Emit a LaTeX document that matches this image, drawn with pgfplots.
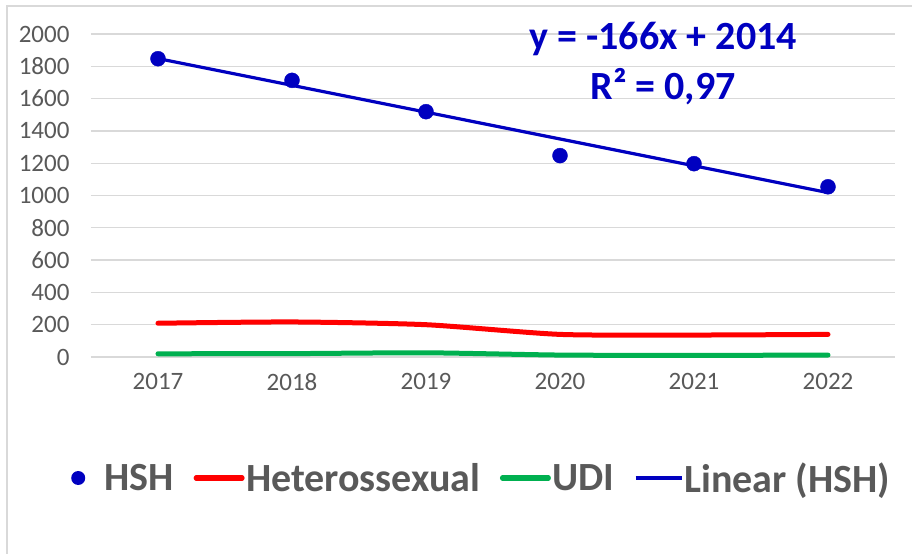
\documentclass[border=0pt]{standalone}
\usepackage{pgfplots}
\pgfplotsset{compat=1.18}
\usepackage{fontspec}
\setmainfont{Carlito}
\definecolor{hshblue}{HTML}{0000C0}
\definecolor{hetred}{HTML}{FF0000}
\definecolor{udigreen}{HTML}{00B050}
\definecolor{gridgray}{HTML}{D9D9D9}
\definecolor{txtgray}{HTML}{595959}
\begin{document}
\begin{tikzpicture}
\begin{axis}[
  scale only axis, width=804bp, height=323bp,
  xmin=2016.5, xmax=2022.5, ymin=0, ymax=2000,
  xtick={2017,2018,2019,2020,2021,2022},
  xticklabels={2017,2018,2019,2020,2021,2022},
  ytick={0,200,...,2000},
  ymajorgrids, grid style={gridgray, line width=1.3bp},
  axis line style={draw=none}, major tick length=0pt,
  tick label style={font=\fontsize{25bp}{28bp}\selectfont, text=txtgray},
  /pgf/number format/assume math mode=true,
  /pgf/number format/1000 sep={},
  yticklabel style={xshift=-18bp},
  xticklabel style={yshift=-13bp},
  clip=false,
  legend columns=4,
  legend style={at={(0.4745,-0.3746)}, anchor=center, draw=none, fill=none,
    font=\bfseries\fontsize{40bp}{48bp}\selectfont, text=txtgray,
    nodes={inner xsep=1.5bp, inner ysep=0bp},
    /tikz/every even column/.append style={column sep=18bp}},
]
\addplot[only marks, mark=*, mark size=7.5bp, hshblue,
  legend image code/.code={\path[draw=none] (0bp,0bp) -- (50bp,0bp); \path[fill=hshblue, draw=none] (25bp,0bp) circle (7bp);}]
  coordinates {(2017,1847) (2018,1713) (2019,1519) (2020,1247) (2021,1197) (2022,1054)};
\addlegendentry{HSH}
\addplot[hetred, line width=5bp, line cap=round, smooth, tension=0.4, no marks,
  legend image code/.code={\draw[hetred, line width=5bp, line cap=round] (2bp,0bp) -- (48bp,0bp);}]
  coordinates {(2017,209) (2018,217) (2019,200) (2020,140) (2021,136) (2022,140)};
\addlegendentry{Heterossexual}
\addplot[udigreen, line width=5bp, line cap=round, smooth, tension=0.4, no marks,
  legend image code/.code={\draw[udigreen, line width=5bp, line cap=round] (2bp,0bp) -- (48bp,0bp);}]
  coordinates {(2017,20) (2018,21) (2019,26) (2020,12) (2021,10) (2022,12)};
\addlegendentry{UDI}
\addplot[hshblue, line width=3.2bp, no marks,
  legend image code/.code={\draw[hshblue, line width=3.2bp] (2bp,0bp) -- (48bp,0bp);}]
  coordinates {(2017,1848) (2022,1018)};
\addlegendentry{Linear (HSH)}
\node[hshblue, font=\bfseries\fontsize{40bp}{50bp}\selectfont, align=center] at (axis cs:2020.77,1815) {y = -166x + 2014\\R² = 0,97};
\end{axis}
\path[use as bounding box] ([xshift=-91bp,yshift=-197bp]current axis.south west) rectangle ([xshift=17bp,yshift=34bp]current axis.north east);
\draw[gridgray, line width=1.5bp] ([xshift=-84bp,yshift=-210bp]current axis.south west) -- ([xshift=-84bp,yshift=28bp]current axis.north west) -- ([xshift=30bp,yshift=28bp]current axis.north east);
\end{tikzpicture}
\end{document}
